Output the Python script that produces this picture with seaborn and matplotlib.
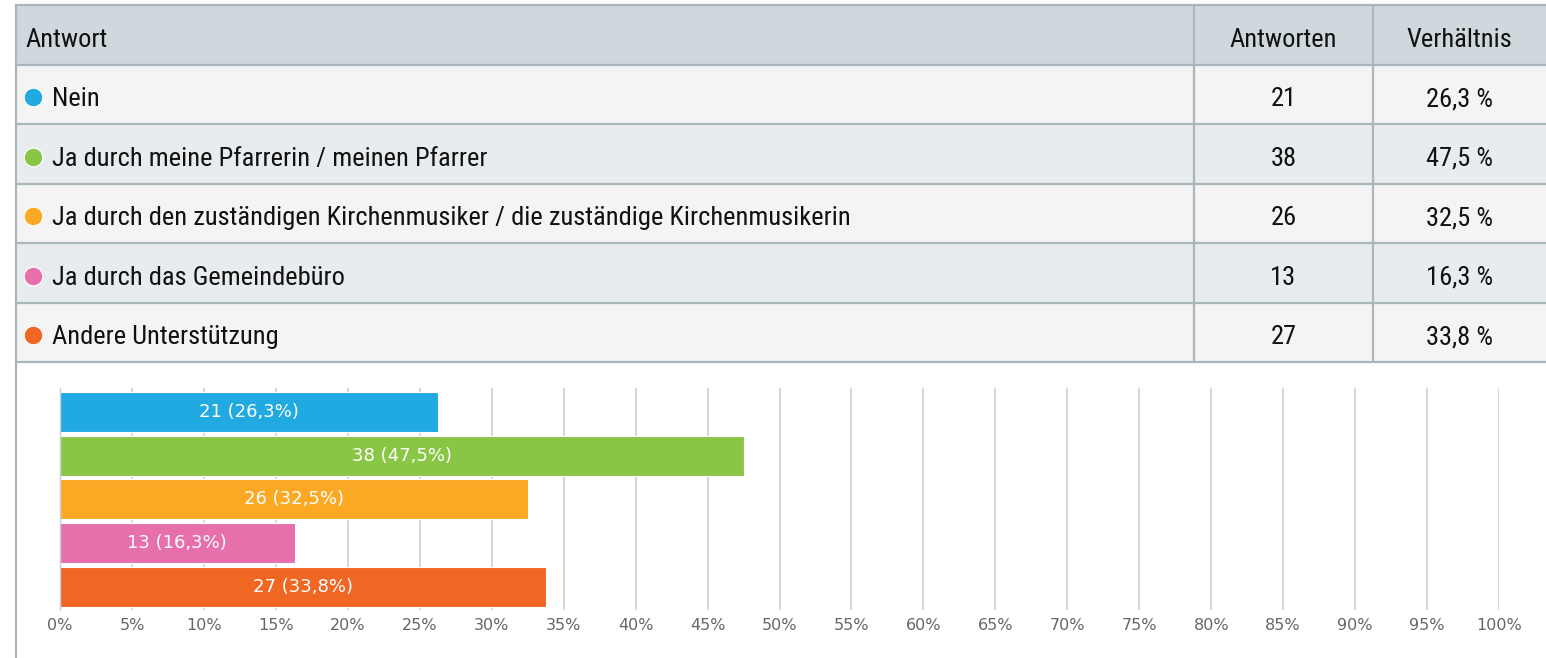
import os

import matplotlib
matplotlib.use('Agg')
import matplotlib.pyplot as plt
from matplotlib import font_manager
from matplotlib.font_manager import FontProperties
from matplotlib.lines import Line2D
import pandas as pd
import seaborn as sns


# data
answers = [
    'Nein',
    'Ja durch meine Pfarrerin / meinen Pfarrer',
    'Ja durch den zuständigen Kirchenmusiker / die zuständige Kirchenmusikerin',
    'Ja durch das Gemeindebüro',
    'Andere Unterstützung',
]
counts = [21, 38, 26, 13, 27]
shares = [26.3, 47.5, 32.5, 16.3, 33.8]
colors = ['#21AAE1', '#8AC646', '#FBA925', '#E76FAB', '#F06623']
header = ['Antwort', 'Antworten', 'Verhältnis']
xticks = list(range(0, 101, 5))

df = pd.DataFrame({'answer': answers, 'count': counts, 'share': shares})

sns.set_style('white')
plt.rcParams['font.family'] = ['DejaVu Sans']


# the table uses a narrow sans in the original; take the narrowest one we can find
def narrow_font():
    wanted = ['RobotoCondensed-Regular', 'LiberationSansNarrow-Regular', 'DejaVuSansCondensed.',
              'NotoSans-Condensed.', 'OpenSans-Condensed', 'Roboto-Regular']
    files = [f.fname for f in font_manager.fontManager.ttflist]
    for w in wanted:
        for f in files:
            if w in os.path.basename(f):
                return FontProperties(fname=f)
    return FontProperties(family='Roboto')


W, H = 1546, 658
fig = plt.figure(figsize=(W / 100, H / 100), dpi=100)
renderer = fig.canvas.get_renderer()

tfont = narrow_font()
border = '#A9B6BC'
ink = '#111111'

# size the table font so the longest answer is as wide as in the original
probe = fig.text(0, 0, answers[2], fontproperties=tfont, fontsize=20)
tsize = 20 * 796 / probe.get_window_extent(renderer).width
probe.remove()
tfont.set_size(tsize)

# table, laid out in pixel units along x and row units along y
tab = fig.add_axes([16 / W, 1 - 362 / H, 1 - 16 / W, (362 - 5) / H])
tab.set_xlim(16, W)
tab.set_ylim(len(answers) + 1, 0)
tab.axis('off')

col_sep = [1194, 1373]
col_mid = [(1194 + 1373) / 2, (1373 + W) / 2]
base = 0.70  # baseline position inside a row

tab.axhspan(0, 1, color='#CFD8DC', lw=0)
for i in range(len(answers)):
    tab.axhspan(i + 1, i + 2, color='#F4F4F4' if i % 2 == 0 else '#E9ECEE', lw=0)
for i in range(len(answers) + 2):
    tab.axhline(i, color=border, lw=1.6, clip_on=False)
for x in col_sep:
    tab.axvline(x, color=border, lw=1.6)

tab.text(25, base, header[0], fontproperties=tfont, va='baseline', ha='left', color=ink)
tab.text(col_mid[0], base, header[1], fontproperties=tfont, va='baseline', ha='center', color=ink)
tab.text(col_mid[1], base, header[2], fontproperties=tfont, va='baseline', ha='center', color=ink)

for i, row in df.iterrows():
    y = i + 1
    tab.scatter([33], [y + 0.55], s=180, color=colors[i], edgecolor='white', linewidth=0.8, zorder=3)
    tab.text(52, y + base, row['answer'], fontproperties=tfont, va='baseline', ha='left', color=ink)
    tab.text(col_mid[0], y + base, str(row['count']), fontproperties=tfont,
             va='baseline', ha='center', color=ink)
    tab.text(col_mid[1], y + base, f"{row['share']:.1f} %".replace('.', ','), fontproperties=tfont,
             va='baseline', ha='center', color=ink)

# left border running down the whole block
fig.add_artist(Line2D([16 / W, 16 / W], [0, 1 - 5 / H], transform=fig.transFigure, color=border, lw=1.6))

# bar chart
ax = fig.add_axes([60 / W, 1 - 610 / H, (1499 - 60) / W, (610 - 388) / H])
sns.barplot(
    data=df, x='share', y='answer', hue='answer', palette=colors, orient='h', saturation=1,
    width=0.914, ax=ax, legend=False, edgecolor='white', linewidth=0.8, zorder=2
)

for cont, c, s in zip(ax.containers, counts, shares):
    ax.bar_label(cont, labels=[f"{c} ({s:.1f}%)".replace('.', ',')], label_type='center',
                 color='white', fontsize=13)

ax.set_xlim(0, 100)
ax.set_ylim(4.53, -0.55)
ax.set_xticks(xticks, [f'{t}%' for t in xticks], fontsize=11.5, color='#666666')
ax.set_yticks([0, 2.5], ['', ''])
ax.tick_params(axis='x', length=0, pad=6)
ax.tick_params(axis='y', length=5, color='#C0D0E0', width=1)
ax.grid(axis='x', color='#CCCCCC', lw=1.1)
ax.set_axisbelow(True)
ax.set_xlabel(None)
ax.set_ylabel(None)
for side in ['top', 'right', 'bottom']:
    ax.spines[side].set_visible(False)
ax.spines['left'].set_color('#C0D0E0')
ax.spines['left'].set_linewidth(1)

fig.savefig('out.png', dpi=100)
